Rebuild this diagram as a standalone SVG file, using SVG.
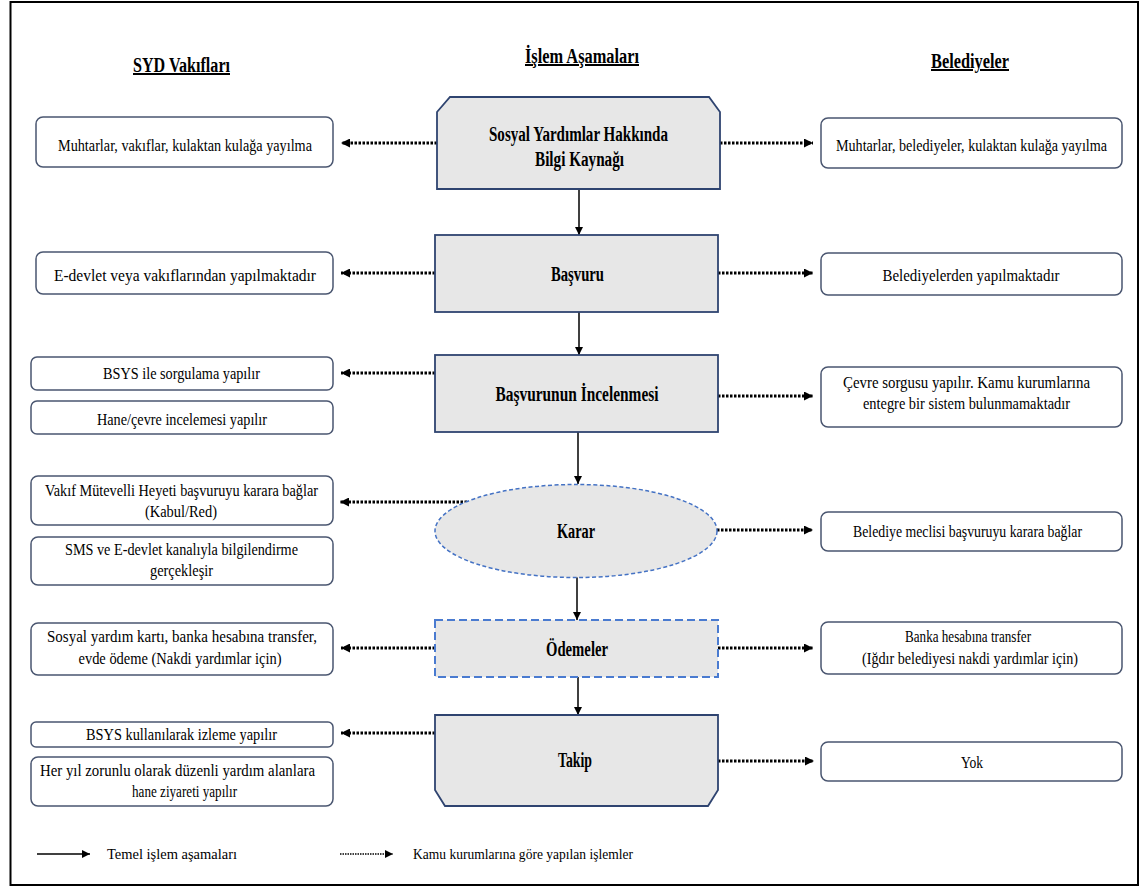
<svg xmlns="http://www.w3.org/2000/svg" width="1140" height="889" viewBox="0 0 1140 889" font-family="'Liberation Serif', 'Times New Roman', serif">
<style>
text{font-family:'Liberation Serif','Times New Roman',serif;fill:#000}
.h{font-size:20px;font-weight:bold;text-decoration:underline;text-anchor:middle}
.n{font-size:20px;font-weight:bold;text-anchor:middle}
.t{font-size:16px;text-anchor:middle}
.lg{font-size:15px}
.box{fill:#fff;stroke:#4a5670;stroke-width:1.5}
.node{fill:#e7e7e7;stroke:#2f4470;stroke-width:1.8}
.dot{stroke:#000;stroke-width:3;stroke-dasharray:2.5 1.5;fill:none}
.sol{stroke:#000;stroke-width:1.5;fill:none}
</style>
<defs>
<marker id="ah" viewBox="0 0 10 10" refX="10" refY="5" markerWidth="9" markerHeight="9" markerUnits="userSpaceOnUse" orient="auto"><path d="M0,0 L10,5 L0,10 z" fill="#000"/></marker>
<marker id="as" viewBox="0 0 10 10" refX="10" refY="5" markerWidth="9" markerHeight="8" markerUnits="userSpaceOnUse" orient="auto"><path d="M0,0 L10,5 L0,10 z" fill="#000"/></marker>
</defs>
<rect x="10.5" y="2" width="1127.5" height="883" fill="#fff" stroke="#000" stroke-width="2"/>
<g id="headers">
<text class="h" x="181.5" y="72" textLength="97" lengthAdjust="spacingAndGlyphs">SYD Vakıfları</text>
<text class="h" x="582" y="63" textLength="114" lengthAdjust="spacingAndGlyphs">İşlem Aşamaları</text>
<text class="h" x="970" y="68" textLength="78" lengthAdjust="spacingAndGlyphs">Belediyeler</text>
</g>
<g id="connectors">
<line class="sol" x1="579" y1="189" x2="579" y2="235" marker-end="url(#as)"/>
<line class="sol" x1="579" y1="312" x2="579" y2="355" marker-end="url(#as)"/>
<line class="sol" x1="578" y1="432" x2="578" y2="484" marker-end="url(#as)"/>
<line class="sol" x1="577" y1="577" x2="577" y2="620" marker-end="url(#as)"/>
<line class="sol" x1="578" y1="677" x2="578" y2="715" marker-end="url(#as)"/>
<line class="dot" x1="437" y1="143" x2="341" y2="143" marker-end="url(#ah)"/>
<line class="dot" x1="720" y1="143" x2="813" y2="143" marker-end="url(#ah)"/>
<line class="dot" x1="435" y1="273" x2="341" y2="273" marker-end="url(#ah)"/>
<line class="dot" x1="718" y1="273" x2="813" y2="273" marker-end="url(#ah)"/>
<line class="dot" x1="435" y1="373" x2="341" y2="373" marker-end="url(#ah)"/>
<line class="dot" x1="718" y1="396" x2="813" y2="396" marker-end="url(#ah)"/>
<line class="dot" x1="467" y1="502" x2="340" y2="502" marker-end="url(#ah)"/>
<line class="dot" x1="717" y1="530" x2="813" y2="530" marker-end="url(#ah)"/>
<line class="dot" x1="435" y1="648" x2="341" y2="648" marker-end="url(#ah)"/>
<line class="dot" x1="718" y1="648" x2="813" y2="648" marker-end="url(#ah)"/>
<line class="dot" x1="435" y1="733" x2="341" y2="733" marker-end="url(#ah)"/>
<line class="dot" x1="718" y1="761" x2="814" y2="761" marker-end="url(#ah)"/>
</g>
<g id="n-bilgi">
<polygon class="node" points="437,112 450,97 709,97 720,112 720,189 437,189"/>
<text class="n" x="578.5" y="141" textLength="179" lengthAdjust="spacingAndGlyphs">Sosyal Yardımlar  Hakkında</text>
<text class="n" x="579.5" y="166" textLength="89" lengthAdjust="spacingAndGlyphs">Bilgi Kaynağı</text>
</g>
<g id="n-basvuru">
<rect class="node" x="435" y="235" width="283" height="77"/>
<text class="n" x="577.5" y="281" textLength="53" lengthAdjust="spacingAndGlyphs">Başvuru</text>
</g>
<g id="n-inceleme">
<rect class="node" x="435" y="355" width="283" height="77"/>
<text class="n" x="577" y="401" textLength="163" lengthAdjust="spacingAndGlyphs">Başvurunun  İncelenmesi</text>
</g>
<g id="n-karar">
<ellipse cx="576" cy="531" rx="141" ry="46.5" fill="#e7e7e7" stroke="#4472c4" stroke-width="1.5" stroke-dasharray="4 2.5"/>
<text class="n" x="576" y="538" textLength="38" lengthAdjust="spacingAndGlyphs">Karar</text>
</g>
<g id="n-odemeler">
<rect x="435" y="620" width="283" height="57" fill="#e7e7e7" stroke="#4a7bd0" stroke-width="2" stroke-dasharray="8 4"/>
<text class="n" x="577" y="656" textLength="62" lengthAdjust="spacingAndGlyphs">Ödemeler</text>
</g>
<g id="n-takip">
<polygon class="node" points="435,715 718,715 718,790 708,806 445,806 435,790"/>
<text class="n" x="575" y="767" textLength="34" lengthAdjust="spacingAndGlyphs">Takip</text>
</g>
<g id="l-bilgi">
<rect class="box" x="36" y="117" width="297" height="50" rx="7"/>
<text class="t" x="185" y="151" textLength="254" lengthAdjust="spacingAndGlyphs">Muhtarlar, vakıflar, kulaktan  kulağa yayılma</text>
</g>
<g id="r-bilgi">
<rect class="box" x="821" y="118" width="301" height="50" rx="7"/>
<text class="t" x="971.5" y="151" textLength="271" lengthAdjust="spacingAndGlyphs">Muhtarlar, belediyeler, kulaktan  kulağa yayılma</text>
</g>
<g id="l-basvuru">
<rect class="box" x="36" y="252" width="297" height="42" rx="7"/>
<text class="t" x="185" y="281" textLength="262" lengthAdjust="spacingAndGlyphs">E-devlet veya vakıflarından yapılmaktadır</text>
</g>
<g id="r-basvuru">
<rect class="box" x="821" y="253" width="301" height="42" rx="7"/>
<text class="t" x="971" y="281" textLength="177" lengthAdjust="spacingAndGlyphs">Belediyelerden yapılmaktadır</text>
</g>
<g id="l-inceleme-1">
<rect class="box" x="31" y="357" width="302" height="33" rx="6"/>
<text class="t" x="181.5" y="379" textLength="157" lengthAdjust="spacingAndGlyphs">BSYS ile sorgulama yapılır</text>
</g>
<g id="l-inceleme-2">
<rect class="box" x="31" y="401" width="302" height="33" rx="6"/>
<text class="t" x="182" y="425" textLength="170" lengthAdjust="spacingAndGlyphs">Hane/çevre incelemesi yapılır</text>
</g>
<g id="r-inceleme">
<rect class="box" x="821" y="367" width="301" height="60" rx="7"/>
<text class="t" x="966.5" y="388" textLength="247" lengthAdjust="spacingAndGlyphs">Çevre sorgusu yapılır. Kamu  kurumlarına</text>
<text class="t" x="966.5" y="409" textLength="207" lengthAdjust="spacingAndGlyphs">entegre bir sistem bulunmamaktadır</text>
</g>
<g id="l-karar-1">
<rect class="box" x="31" y="476" width="302" height="49" rx="7"/>
<text class="t" x="181.5" y="496" textLength="273" lengthAdjust="spacingAndGlyphs">Vakıf Mütevelli Heyeti  başvuruyu karara bağlar</text>
<text class="t" x="181" y="517" textLength="72" lengthAdjust="spacingAndGlyphs">(Kabul/Red)</text>
</g>
<g id="l-karar-2">
<rect class="box" x="31" y="537" width="302" height="48" rx="7"/>
<text class="t" x="181.5" y="555" textLength="233" lengthAdjust="spacingAndGlyphs">SMS ve E-devlet kanalıyla bilgilendirme</text>
<text class="t" x="181.5" y="576" textLength="63" lengthAdjust="spacingAndGlyphs">gerçekleşir</text>
</g>
<g id="r-karar">
<rect class="box" x="821" y="512" width="301" height="39" rx="7"/>
<text class="t" x="967.5" y="537" textLength="229" lengthAdjust="spacingAndGlyphs">Belediye meclisi başvuruyu  karara bağlar</text>
</g>
<g id="l-odemeler">
<rect class="box" x="31" y="623" width="302" height="52" rx="7"/>
<text class="t" x="182" y="642" textLength="270" lengthAdjust="spacingAndGlyphs">Sosyal yardım kartı, banka hesabına transfer,</text>
<text class="t" x="180" y="664" textLength="203" lengthAdjust="spacingAndGlyphs">evde ödeme (Nakdi yardımlar için)</text>
</g>
<g id="r-odemeler">
<rect class="box" x="821" y="622" width="301" height="52" rx="7"/>
<text class="t" x="968" y="642" textLength="126" lengthAdjust="spacingAndGlyphs">Banka hesabına transfer</text>
<text class="t" x="970" y="664" textLength="216" lengthAdjust="spacingAndGlyphs">(Iğdır belediyesi nakdi yardımlar için)</text>
</g>
<g id="l-takip-1">
<rect class="box" x="31" y="722" width="302" height="25" rx="5"/>
<text class="t" x="181.5" y="740" textLength="191" lengthAdjust="spacingAndGlyphs">BSYS kullanılarak izleme yapılır</text>
</g>
<g id="l-takip-2">
<rect class="box" x="31" y="757" width="302" height="49" rx="7"/>
<text class="t" x="177.5" y="776" textLength="275" lengthAdjust="spacingAndGlyphs">Her yıl zorunlu olarak düzenli yardım alanlara</text>
<text class="t" x="184.5" y="797" textLength="105" lengthAdjust="spacingAndGlyphs">hane ziyareti yapılır</text>
</g>
<g id="r-takip">
<rect class="box" x="821" y="742" width="301" height="39" rx="7"/>
<text class="t" x="972" y="768" textLength="22" lengthAdjust="spacingAndGlyphs">Yok</text>
</g>
<g id="legend">
<line class="sol" x1="37" y1="854" x2="90" y2="854" marker-end="url(#as)"/>
<text class="lg" x="107" y="859" textLength="130" lengthAdjust="spacingAndGlyphs">Temel işlem aşamaları</text>
<line x1="340" y1="854" x2="393" y2="854" stroke="#000" stroke-width="1.3" stroke-dasharray="1.5 1" marker-end="url(#as)"/>
<text class="lg" x="413" y="859" textLength="220" lengthAdjust="spacingAndGlyphs">Kamu kurumlarına  göre yapılan işlemler</text>
</g>
</svg>
